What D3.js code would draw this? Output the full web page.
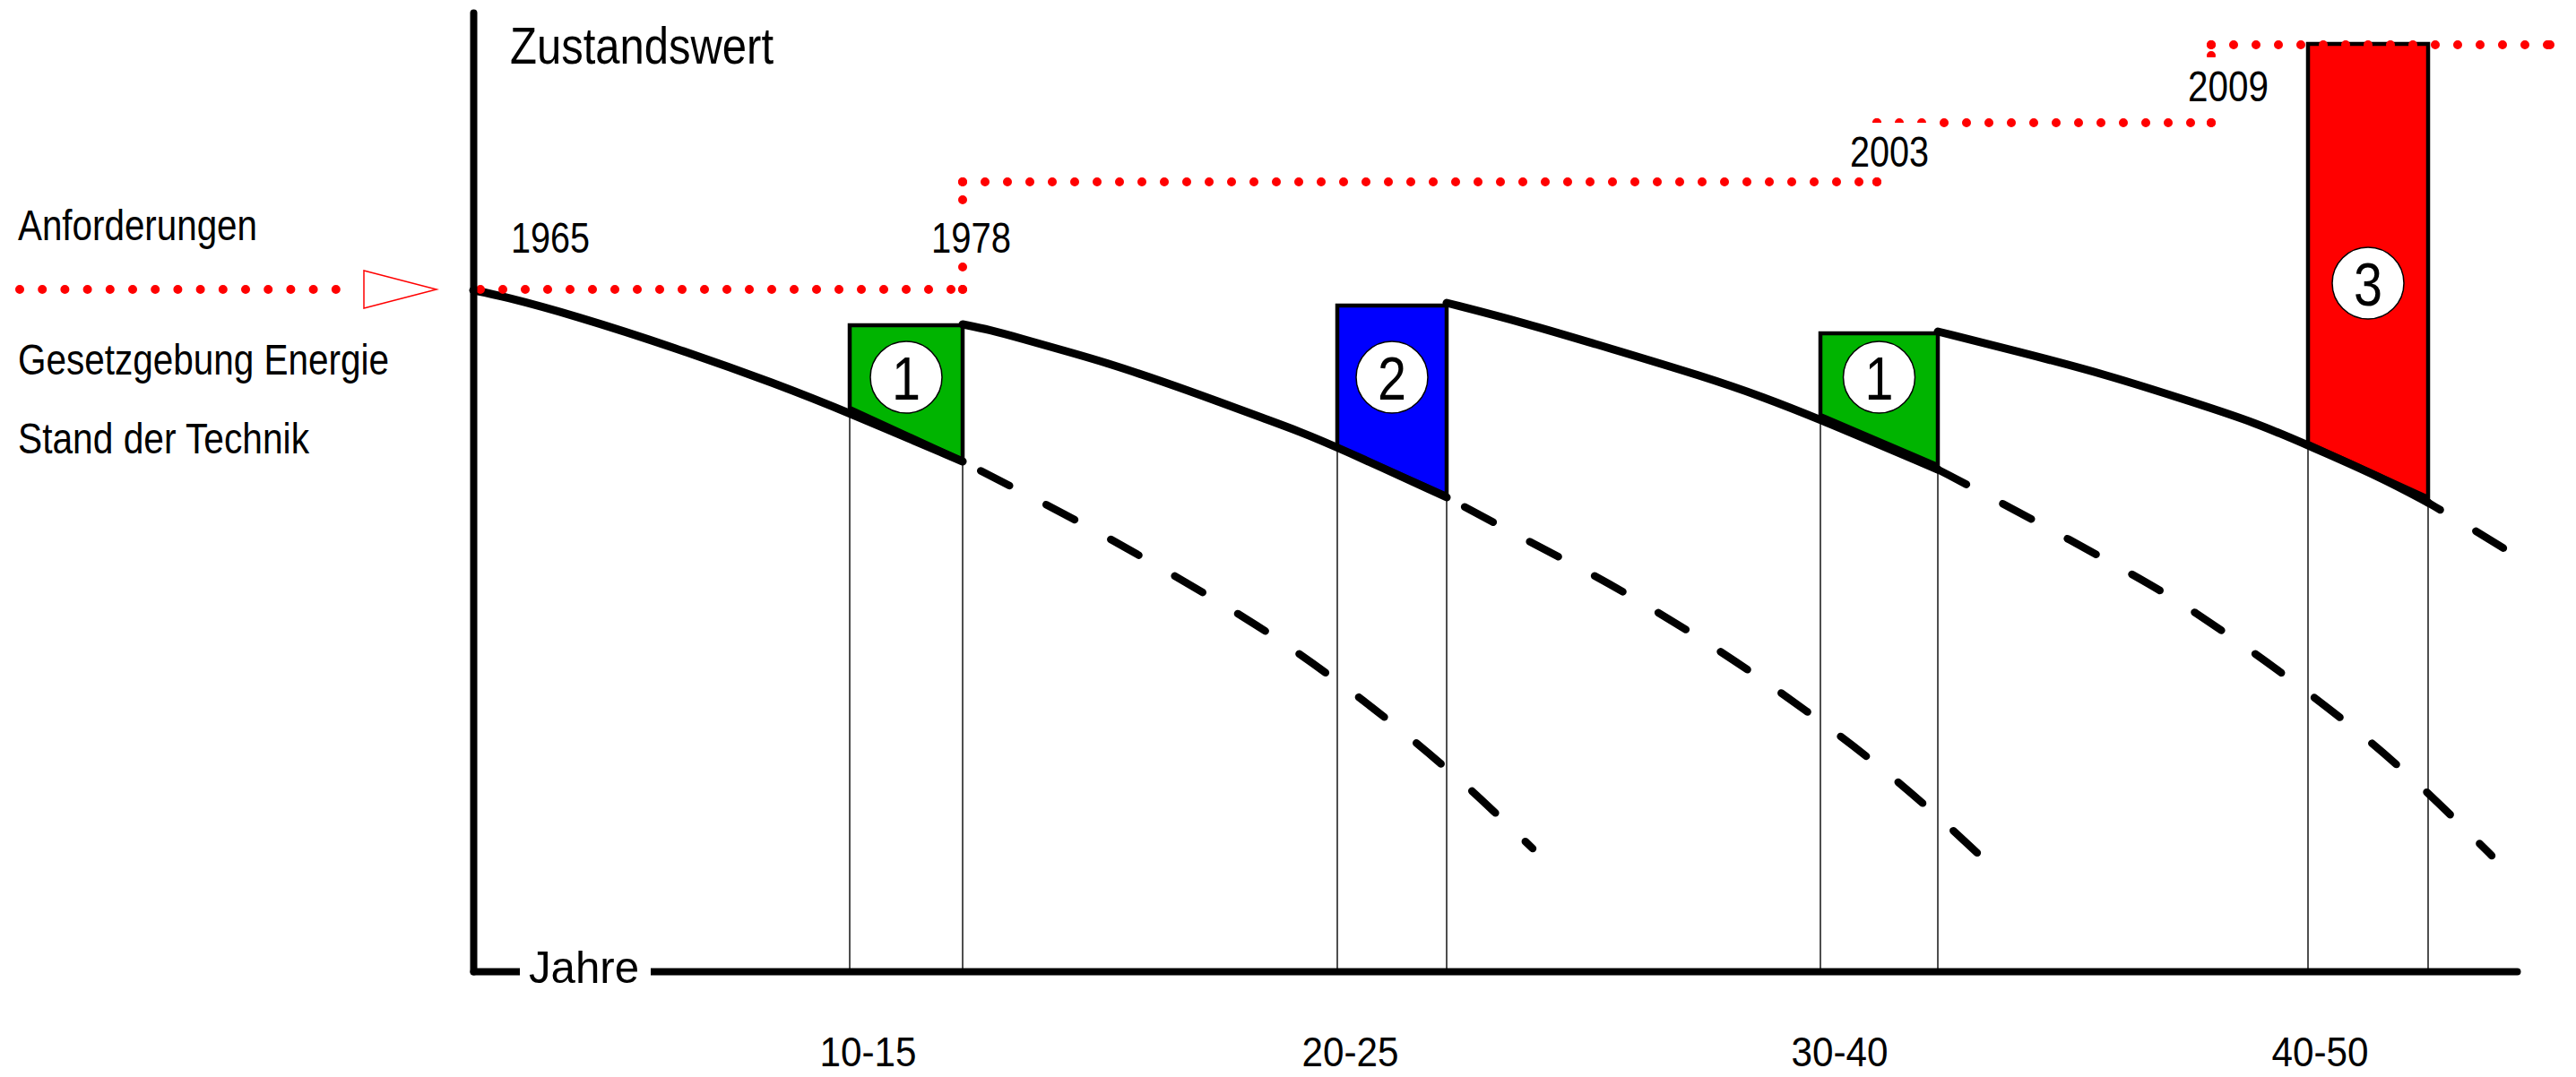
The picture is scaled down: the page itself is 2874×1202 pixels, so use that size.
<!DOCTYPE html>
<html>
<head>
<meta charset="utf-8">
<script src="https://cdn.jsdelivr.net/npm/d3@7"></script>
<style>
  html, body { margin: 0; padding: 0; background: #ffffff; }
  svg { display: block; }
  text { font-family: 'Liberation Sans', Arial, sans-serif; fill: #000; }
</style>
</head>
<body>
<svg id="chart" width="2874" height="1202"></svg>
<script>
// ---------------- DATA (x: Jahre, y: Zustandswert) ----------------
const ageBands       = ["10-15", "20-25", "30-40", "40-50"];
const ageBandCenter  = [11.0, 24.45, 38.1, 51.5];

const measureLabels  = ["1", "2", "1", "3"];
const boxStart       = [10.5, 24.1, 37.575, 51.175];
const boxEnd         = [13.65, 27.15, 40.85, 54.525];
const boxTop         = [72.1, 74.3, 71.2, 103.5];
const boxBottomStart = [62.9, 58.6, 62.1, 59.0];
const boxBottomEnd   = [57.1, 53.2, 56.5, 52.9];

const reqYears = ["1965", "1978", "2003", "2009"];
const reqStart = [0.2, 13.65, 39.15, 48.475];
const reqEnd   = [13.65, 39.15, 48.475, 57.925];
const reqLevel = [76.1, 88.1, 94.7, 103.4];

const curve1 = [[0, 76.0], [0.775, 75.4], [2.825, 73.2], [5.625, 69.6], [8.425, 65.6], [10.5, 62.3],
  [13.65, 56.9], [15.1, 53.9], [16.9, 50.2], [19.3, 44.8], [21.8, 38.8], [22.875, 35.9],
  [24.525, 31.2], [26.1, 26.2], [27.6, 21.1], [28.4, 18.1], [29.55, 13.7]];
const curve2 = [[13.65, 72.2], [14.4, 71.6], [15.3, 70.6], [16.45, 69.3], [17.6, 68.0], [19.25, 65.8],
  [20.775, 63.6], [22.05, 61.7], [23.075, 60.2], [24.1, 58.5], [27.15, 52.9], [29.475, 47.9], [31.275, 44.2],
  [33.0, 40.2], [34.725, 35.9], [36.375, 31.4], [38.025, 26.6], [39.6, 21.7], [41.1, 16.4], [42.675, 10.5]];
const curve3 = [[27.15, 74.6], [29.3, 72.4], [31.8, 69.4], [34.3, 66.4], [35.975, 64.1], [37.625, 61.5],
  [40.85, 56.0], [42.675, 52.2], [46.8, 43.2], [47.975, 40.2], [49.625, 35.7], [51.25, 30.9], [52.85, 25.9],
  [54.35, 20.6], [55.75, 15.1], [56.3, 12.9]];
const curve4 = [[40.85, 71.4], [43.05, 69.2], [45.55, 66.6], [48.05, 63.4], [49.725, 61.2], [51.175, 58.7],
  [53.225, 55.1], [54.525, 52.3], [55.75, 49.4], [56.675, 47.1]];
const curves = [curve1, curve2, curve3, curve4];

const legendLabels = ["Anforderungen", "Gesetzgebung Energie", "Stand der Technik"];
const yTitle = "Zustandswert";
const xTitle = "Jahre";

// ---------------- LAYOUT / STYLE ----------------
const W = 2874, H = 1202;
const colorOf = { "1": "#00b400", "2": "#0000ff", "3": "#ff0000" };
const badgeLevel = [66.3, 66.3, 66.3, 76.8];
const dashOffsets = [59, 59, 0, 20];
const yearLabelDx = [35, -34, -29, -25];
const yearLabelDy = [-41, -41, -17, -24];
const yearLabelLen = [88, 89, 88, 90];

function narrow(sel, len) {
  return sel.attr("textLength", len).attr("lengthAdjust", "spacingAndGlyphs");
}

const svg = d3.select("#chart");
const x = d3.scaleLinear().domain([0, 57]).range([528, 2808]);
const y = d3.scaleLinear().domain([0, 107]).range([1084, 14]);

svg.append("rect").attr("width", W).attr("height", H).attr("fill", "#fff");

// thin vertical guide lines
const gGuides = svg.append("g");
boxStart.forEach((s, i) => {
  [[s, boxBottomStart[i]], [boxEnd[i], boxBottomEnd[i]]].forEach(([xx, yy]) => {
    gGuides.append("line")
      .attr("x1", x(xx)).attr("x2", x(xx))
      .attr("y1", y(yy)).attr("y2", y(0))
      .attr("stroke", "#222").attr("stroke-width", 1.6);
  });
});

// measure boxes
const gBoxes = svg.append("g");
boxStart.forEach((s, i) => {
  const pts = [[s, boxTop[i]], [boxEnd[i], boxTop[i]], [boxEnd[i], boxBottomEnd[i]], [s, boxBottomStart[i]]];
  gBoxes.append("polygon")
    .attr("points", pts.map(p => `${x(p[0])},${y(p[1])}`).join(" "))
    .attr("fill", colorOf[measureLabels[i]])
    .attr("stroke", "#000").attr("stroke-width", 4.5).attr("stroke-linejoin", "miter");
});

// deterioration curves
const line = d3.line().x(d => x(d[0])).y(d => y(d[1])).curve(d3.curveBasis);
const gCurves = svg.append("g");
curves.forEach((c, i) => {
  const split = boxEnd[i];
  const solid = c.filter(d => d[0] <= split + 1e-9);
  const dashed = c.filter(d => d[0] >= split - 1e-9);
  gCurves.append("path").attr("d", line(solid))
    .attr("fill", "none").attr("stroke", "#000").attr("stroke-width", 9)
    .attr("stroke-linecap", "round").attr("stroke-linejoin", "round");
  gCurves.append("path").attr("d", line(dashed))
    .attr("fill", "none").attr("stroke", "#000").attr("stroke-width", 8.5)
    .attr("stroke-linecap", "round")
    .attr("stroke-dasharray", "36 46").attr("stroke-dashoffset", dashOffsets[i]);
});

// numbered badges
const gBadges = svg.append("g");
boxStart.forEach((s, i) => {
  const cx = x((s + boxEnd[i]) / 2), cy = y(badgeLevel[i]);
  gBadges.append("circle").attr("cx", cx).attr("cy", cy).attr("r", 40)
    .attr("fill", "#fff").attr("stroke", "#000").attr("stroke-width", 1.5);
  narrow(gBadges.append("text").attr("x", cx).attr("y", cy + 25)
    .attr("text-anchor", "middle").attr("font-size", 69).text(measureLabels[i]), 32);
});

// requirement (Anforderungen) dotted step line
const red = "#ff0000";
const gReq = svg.append("g");
function dotted(x1, y1, x2, y2) {
  gReq.append("path").attr("d", `M${x1},${y1}L${x2},${y2}`)
    .attr("fill", "none").attr("stroke", red).attr("stroke-width", 10)
    .attr("stroke-linecap", "round").attr("stroke-dasharray", "0 25");
  gReq.append("circle").attr("cx", x2).attr("cy", y2).attr("r", 5).attr("fill", red);
}
reqStart.forEach((s, i) => {
  if (i > 0) dotted(x(s), y(reqLevel[i - 1]), x(s), y(reqLevel[i]));
  dotted(x(s), y(reqLevel[i]), x(reqEnd[i]), y(reqLevel[i]));
});

// year labels with white background
const gYears = svg.append("g");
reqYears.forEach((yr, i) => {
  const base = y(reqLevel[Math.max(0, i - 1)]) + yearLabelDy[i];
  const left = x(reqStart[i]) + yearLabelDx[i];
  gYears.append("rect").attr("x", left - 6).attr("y", base - 49)
    .attr("width", yearLabelLen[i] + 10).attr("height", 57).attr("fill", "#fff");
  narrow(gYears.append("text").attr("x", left - 1).attr("y", base)
    .attr("font-size", 49).text(yr), yearLabelLen[i]);
});

// axes
const gx = svg.append("g").attr("transform", `translate(0,${y(0)})`)
  .call(d3.axisBottom(x).tickValues(ageBandCenter).tickSize(0).tickSizeOuter(0).tickPadding(73)
    .tickFormat((d, i) => ageBands[i]));
gx.select(".domain").attr("stroke", "#000").attr("stroke-width", 8).attr("stroke-linecap", "round");
gx.attr("font-family", null).attr("font-size", null);
narrow(gx.selectAll(".tick text").attr("font-size", 46).attr("fill", "#000"), 108);

const gy = svg.append("g").attr("transform", `translate(${x(0)},0)`)
  .call(d3.axisLeft(y).tickValues([]).tickSize(0).tickSizeOuter(0));
gy.select(".domain").attr("stroke", "#000").attr("stroke-width", 8).attr("stroke-linecap", "round");

// axis titles
svg.append("rect").attr("x", 580).attr("y", 1056).attr("width", 146).attr("height", 56).attr("fill", "#fff");
narrow(svg.append("text").attr("x", 590).attr("y", 1097).attr("font-size", 50).text(xTitle), 123);
narrow(svg.append("text").attr("x", 569).attr("y", 71).attr("font-size", 58).text(yTitle), 294);

// legend on the left
const legBase = [268, 418, 506];
const legLen = [267, 414, 325];
legendLabels.forEach((t, i) => {
  narrow(svg.append("text").attr("x", 20).attr("y", legBase[i]).attr("font-size", 49).text(t), legLen[i]);
});
const ly = y(reqLevel[0]);
svg.append("path").attr("d", `M22,${ly}L400,${ly}`)
  .attr("fill", "none").attr("stroke", red).attr("stroke-width", 10)
  .attr("stroke-linecap", "round").attr("stroke-dasharray", "0 25.2");
svg.append("polygon").attr("points", `406,${ly - 21} 487,${ly} 406,${ly + 21}`)
  .attr("fill", "#fff").attr("stroke", red).attr("stroke-width", 1.5);
</script>
</body>
</html>
